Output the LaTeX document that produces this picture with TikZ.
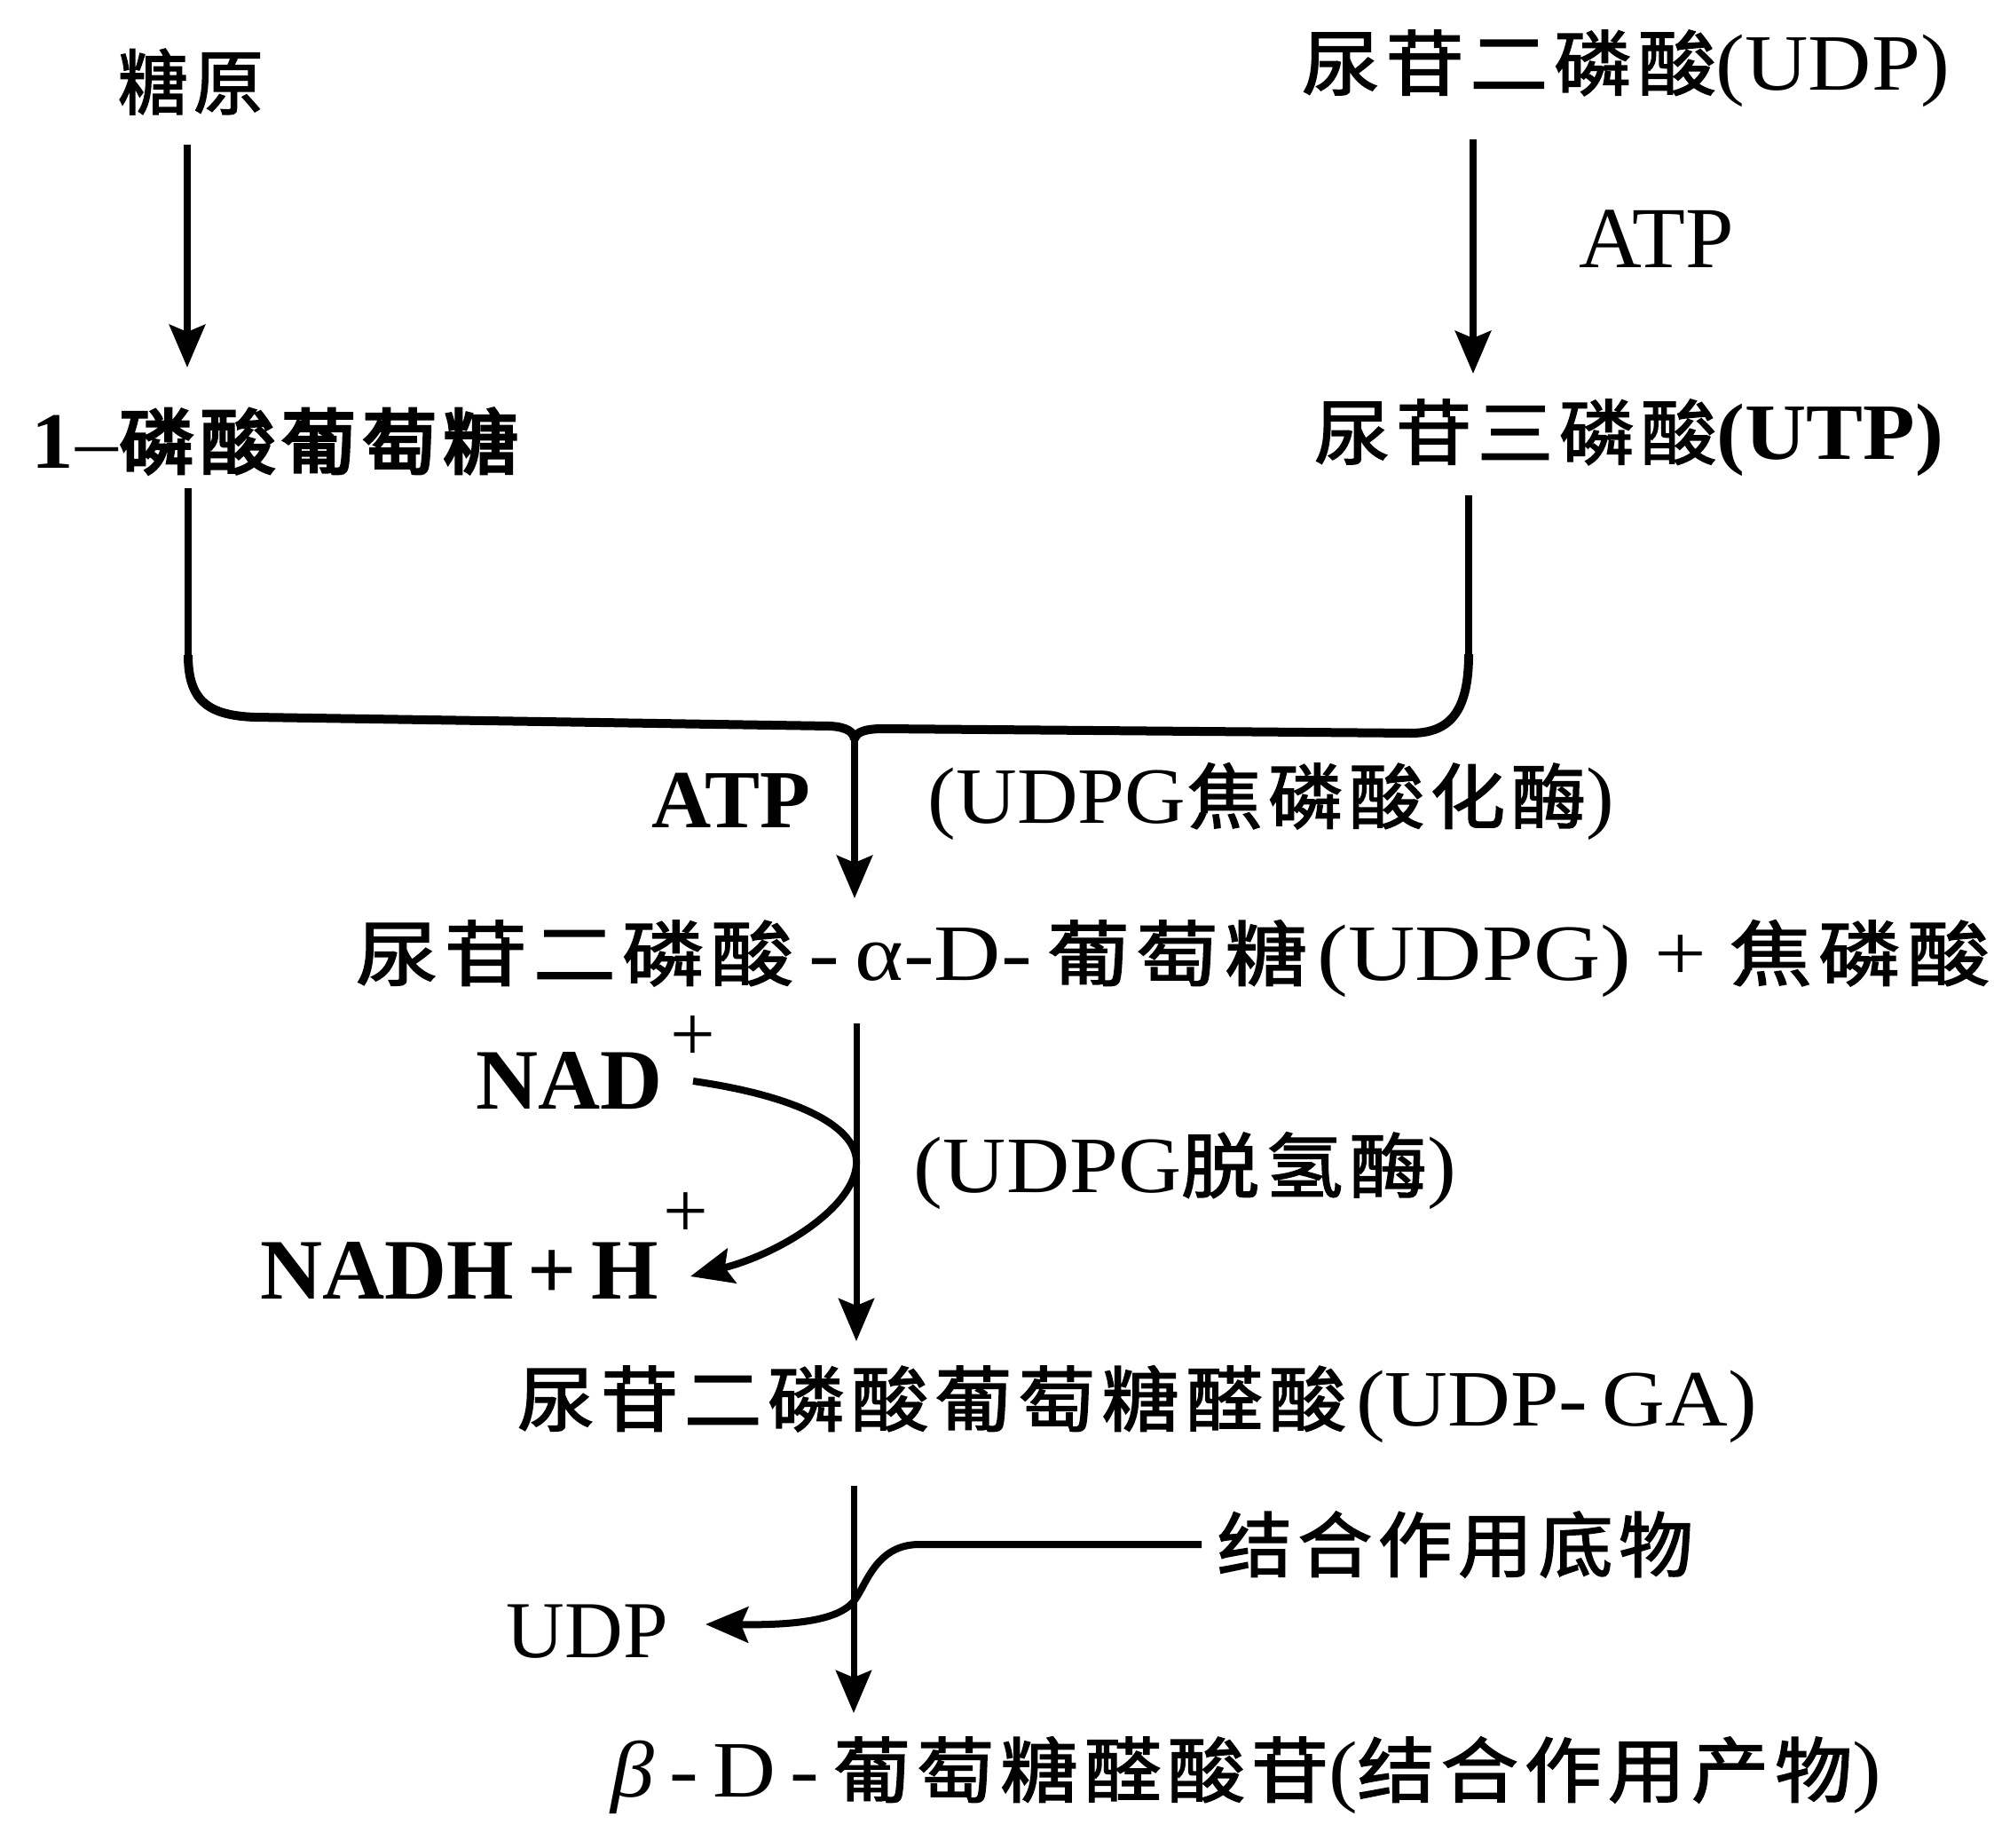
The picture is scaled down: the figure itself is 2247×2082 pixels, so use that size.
\documentclass[tikz,border=0pt]{standalone}
\usepackage{fontspec}
\usepackage{graphicx}
\usetikzlibrary{arrows.meta,calc}
\newfontfamily\zhf{Noto Sans CJK SC}[LetterSpace=8,FakeBold=2]
\newfontfamily\zhbf{Noto Sans CJK SC}[LetterSpace=8,FakeBold=4]
\newfontfamily\ltf{Liberation Serif}
\newcommand\zh[1]{{\fontsize{80pt}{80pt}\zhf #1}}
\newcommand\zhb[1]{{\fontsize{80pt}{80pt}\zhbf #1}}
\newcommand\la[2][90]{{\fontsize{#1pt}{#1pt}\ltf #2}}
\newcommand\lab[2][90]{{\fontsize{#1pt}{#1pt}\ltf\bfseries #2}}
\newcommand\fitw[2]{\resizebox{#1pt}{\height}{#2}}
\newcommand\supplus[2]{\rlap{\smash{\kern#1pt\raisebox{#2pt}{\la{+}}}}}
\begin{document}
\begin{tikzpicture}[x=1pt,y=-1pt,
  lbl/.style={inner sep=0pt,anchor=center},
  conn/.style={line width=7pt},
  tip/.style={-{Stealth[length=48pt,width=40pt,inset=8pt]}},
  arr/.style={conn,tip},
  heavy/.style={line width=8pt},
  thick brace/.style={line width=10pt,line join=round}]
\fill[white] (0,0) rectangle (2247,2082);
\useasboundingbox (0,0) rectangle (2247,2082);

% labels
\node[lbl] (gly)   at (215,92)      {\fitw{164}{\zh{糖原}}};
\node[lbl] (g1p)   at (310,497)     {\fitw{548}{\lab{1}\,\la{–}\,\zhb{磷酸葡萄糖}}};
\node[lbl] (udp1)  at (1832,77)     {\fitw{730}{\zh{尿苷二磷酸}\la{(UDP)}}};
\node[lbl] (atp1)  at (1866.5,269)  {\la[98]{ATP}};
\node[lbl] (utp)   at (1835.5,493)  {\fitw{709}{\zh{尿苷三磷酸}\lab{(UTP)}}};
\node[lbl] (atp2)  at (824,902)     {\lab[93]{ATP}};
\node[lbl] (enz1)  at (1432.5,903)  {\fitw{773}{\la{(UDPG}\,\zh{焦磷酸化酶}\la{)}}};
\node[lbl] (udpg)  at (1321.5,1080) {\fitw{1841}{\zh{尿苷二磷酸}\la{\,-\,α-D-\,}\zh{葡萄糖}\quad\la{(UDPG) + }\zh{焦磷酸}}};
\node[lbl] (nad)   at (642,1218)    {\lab[97]{NAD}\supplus{8}{54}};
\node[lbl] (nadh)  at (517.5,1432)  {\lab[97]{NADH\,+\,H}\supplus{6}{69}};
\node[lbl] (enz2)  at (1335.5,1319) {\fitw{611}{\la{(UDPG}\zh{脱氢酶}\la{)}}};
\node[lbl] (udpga) at (1281.5,1582) {\fitw{1397}{\zh{尿苷二磷酸葡萄糖醛酸}\quad\la{(UDP-\,GA)}}};
\node[lbl] (sub)   at (1640,1740)   {\fitw{536}{\zh{结合作用底物}}};
\node[lbl] (udp2)  at (662,1838)    {\la[91]{UDP}};
\node[lbl] (prod)  at (1404.5,2000) {\fitw{1431}{\la{\itshape β}\la{\,-\,D\,-\,}\zh{葡萄糖醛酸苷}\la{(}\zh{结合作用产物}\la{)}}};

% top arrows
\draw[arr,heavy] ($(gly)+(-4,71)$) -- ($(g1p)+(-99,-83)$);
\draw[arr,heavy] ($(udp1)+(-172,80)$) -- ($(utp)+(-175.5,-72)$);

% brace joining the two branches
\coordinate (cusp) at (963,833);
\draw[heavy] ($(g1p)+(-98,53)$) -- (212,741);
\draw[thick brace] (212,738)
  .. controls (212,790) and (235,806) .. (287,808)
  -- (935,818) .. controls (955,819) and (962,825) .. (cusp);
\draw[heavy] ($(utp)+(-180.5,65)$) -- (1655,740);
\draw[thick brace] (1655,737)
  .. controls (1655,800) and (1635,826) .. (1590,826)
  -- (995,821) .. controls (972,821) and (964,826) .. (cusp);
\draw[arr,heavy] (cusp) -- ($(udpg)+(-358.5,-68)$);

% dehydrogenase step
\draw[arr] ($(udpg)+(-356.5,73)$) -- ($(udpga)+(-316.5,-71)$);
\draw[arr,heavy] ($(nad)+(139,0)$) .. controls (900,1235) and (968,1270) .. (965,1312)
  .. controls (962,1360) and (880,1412) .. ($(nadh)+(260.5,6)$);

% conjugation step
\draw[arr] ($(udpga)+(-319.5,92)$) -- ($(prod)+(-442.5,-70)$);
\draw[arr,heavy,line join=round] ($(sub)+(-286,0)$) -- (1036,1740)
  .. controls (990,1740) and (978,1780) .. (965,1800)
  .. controls (950,1825) and (900,1831) .. ($(udp2)+(133,-8)$);
\end{tikzpicture}
\end{document}
